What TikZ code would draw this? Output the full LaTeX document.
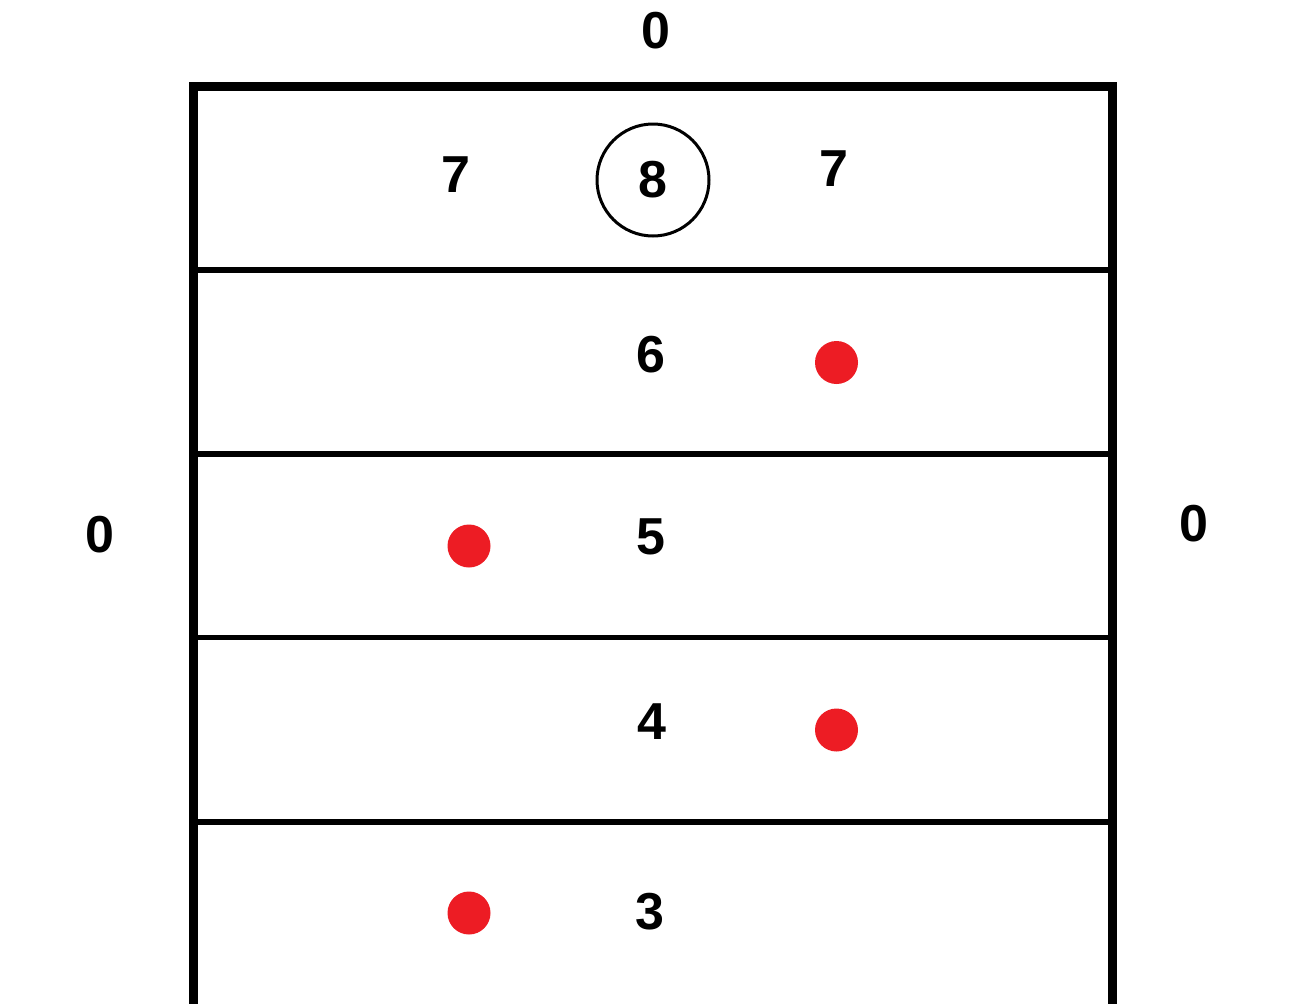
\documentclass[tikz,border=0pt]{standalone}
\usepackage{fontspec}
\setmainfont{Liberation Sans}
\definecolor{paintred}{RGB}{237,28,36}
\begin{document}
\begin{tikzpicture}[x=1pt,y=-1pt,
  num/.style={inner sep=0pt, font=\fontsize{52}{60}\selectfont\bfseries},
  dot/.style={circle, fill=paintred, inner sep=0pt, minimum size=43pt},
  frame/.style={line width=9pt},
  divider/.style={line width=5.5pt},
  ring/.style={circle, draw, line width=3pt, minimum size=112pt, inner sep=0pt, font=\fontsize{52}{60}\selectfont\bfseries}]
\useasboundingbox (0,0) rectangle (1294,1004);
\clip (0,0) rectangle (1294,1004);
\fill[white] (0,0) rectangle (1294,1004);
% frame
\coordinate (bl) at (193.5,1020);
\coordinate (tl) at (193.5,86.5);
\coordinate (tr) at (1112,86.5);
\coordinate (br) at (1112,1020);
\draw[frame, line join=miter] (bl) -- (tl) -- (tr) -- (br);
% dividers
\foreach \yy/\nm in {270/a,454/b,637.5/c,822/d}{
  \coordinate (l\nm) at (193.5,\yy);
  \coordinate (r\nm) at (1112,\yy);
  \draw[divider] (l\nm) -- (r\nm);
}
% labels
\node[num] (ztop) at (656,30.5) {0};
\node[num] (zleft) at (99.5,534.5) {0};
\node[num] (zright) at (1193.5,524) {0};
\node[num] (s7l) at (456,175) {7};
\node[ring] (c8) at (653,180) {8};
\node[num] (s7r) at (834,169) {7};
\node[num] (n6) at (651,355) {6};
\node[num] (n5) at (651,537) {5};
\node[num] (n4) at (652,722) {4};
\node[num] (n3) at (650,912) {3};
% red dots
\node[dot] (d6) at (836.5,362.5) {};
\node[dot] (d5) at (469,546) {};
\node[dot] (d4) at (836.5,730) {};
\node[dot] (d3) at (469,913) {};
\end{tikzpicture}
\end{document}
